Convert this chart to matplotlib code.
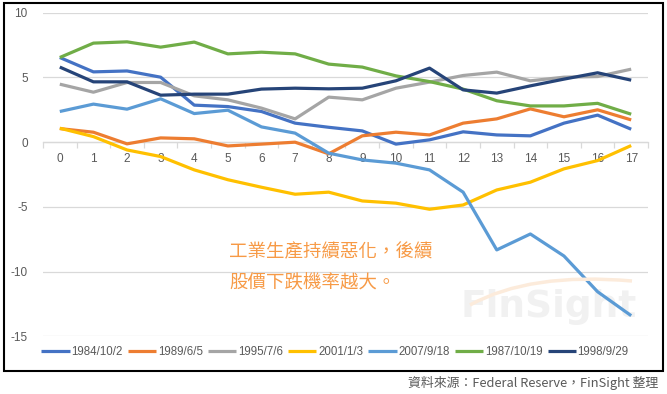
import matplotlib
matplotlib.use("Agg")
import matplotlib.pyplot as plt
from matplotlib.patches import Rectangle, PathPatch
from matplotlib.path import Path

# ---- data ----
x_labels = [str(i) for i in range(18)]
series_names = ["1984/10/2", "1989/6/5", "1995/7/6", "2001/1/3",
                "2007/9/18", "1987/10/19", "1998/9/29"]
s1984 = [6.54, 5.43, 5.50, 5.02, 2.86, 2.75, 2.37, 1.47, 1.15, 0.87,
         -0.15, 0.18, 0.80, 0.56, 0.49, 1.47, 2.09, 1.00]
s1989 = [1.05, 0.77, -0.13, 0.33, 0.26, -0.29, -0.15, 0.00, -0.90, 0.49,
         0.77, 0.56, 1.47, 1.80, 2.57, 1.96, 2.50, 1.72]
s1995 = [4.48, 3.86, 4.61, 4.61, 3.58, 3.27, 2.63, 1.80, 3.48, 3.27,
         4.17, 4.64, 5.15, 5.41, 4.74, 5.02, 5.07, 5.64]
s2001 = [1.08, 0.43, -0.60, -1.11, -2.14, -2.90, -3.48, -4.02, -3.86, -4.54,
         -4.71, -5.18, -4.85, -3.69, -3.09, -2.06, -1.42, -0.26]
s2007 = [2.37, 2.94, 2.55, 3.35, 2.21, 2.47, 1.18, 0.70, -0.85, -1.37,
         -1.62, -2.14, -3.86, -8.32, -7.09, -8.79, -11.55, -13.40]
s1987 = [6.54, 7.65, 7.75, 7.34, 7.73, 6.82, 6.95, 6.82, 6.03, 5.80,
         5.12, 4.68, 4.10, 3.20, 2.80, 2.80, 3.00, 2.16]
s1998 = [5.80, 4.66, 4.66, 3.63, 3.71, 3.71, 4.10, 4.17, 4.12, 4.17,
         4.74, 5.72, 4.04, 3.79, 4.35, 4.87, 5.36, 4.79]
all_series = [s1984, s1989, s1995, s2001, s2007, s1987, s1998]
colors = ["#4472C4", "#ED7D31", "#A5A5A5", "#FFC000",
          "#5B9BD5", "#70AD47", "#264478"]
y_ticks = [-15, -10, -5, 0, 5, 10]

annotation_lines = ["工業生產持續惡化，後續", "股價下跌機率越大。"]
source = "資料來源：Federal Reserve，FinSight 整理"

plt.rcParams['font.family'] = ['Liberation Sans', 'Noto Sans CJK TC', 'DejaVu Sans']

fig = plt.figure(figsize=(6.67, 3.94), dpi=100)
W, H = 667, 394
ax = fig.add_axes([43 / W, 1 - 336.4 / H, (648 - 43) / W, (336.4 - 12.7) / H])

xs = list(range(len(x_labels)))
for name, vals, c in zip(series_names, all_series, colors):
    ax.plot(xs, vals, color=c, lw=2.3, label=name, zorder=3,
            solid_joinstyle='round', solid_capstyle='butt')

ax.set_xlim(-0.5, 17.5)
ax.set_ylim(-15, 10)
ax.set_yticks(y_ticks)
ax.set_yticklabels([str(v) for v in y_ticks])
ax.grid(axis='y', color='#D9D9D9', lw=0.9, zorder=0)
ax.set_axisbelow(True)
for s in ['top', 'right', 'left']:
    ax.spines[s].set_visible(False)
ax.spines['bottom'].set_position(('data', 0))
ax.spines['bottom'].set_color('#D9D9D9')
ax.spines['bottom'].set_linewidth(0.9)
ax.set_xticks(xs)
ax.set_xticklabels(x_labels)
ax.set_xticks([i - 0.5 for i in range(19)], minor=True)
ax.tick_params(axis='x', which='major', length=0, pad=8, labelsize=8.5,
               labelcolor='#595959')
ax.tick_params(axis='x', which='minor', length=4, color='#D9D9D9', width=0.9)
ax.tick_params(axis='y', length=0, pad=11, labelsize=8.5, labelcolor='#595959')

# watermark (decorative)
ax.text(0.836, 0.092, "FinSight", transform=ax.transAxes, fontsize=27,
        fontweight='bold', color='#F1F1F1', ha='center', va='center',
        family='DejaVu Sans', zorder=1)
arc = Path([(470, H - 305), (530, H - 272), (632, H - 281)],
           [Path.MOVETO, Path.CURVE3, Path.CURVE3])
fig.patches.append(PathPatch(arc, transform=None, fill=False,
                             edgecolor='#FCEBDB', lw=2.5, zorder=0))

# annotation
for i, line in enumerate(annotation_lines):
    fig.text(229 / W, 1 - (252 + 31 * i) / H, line, fontsize=13.3,
             color='#F79A46', ha='left', va='center',
             family=['Noto Sans CJK TC'])

leg = fig.legend(loc='center', bbox_to_anchor=(335 / W, 1 - 352 / H), ncol=7,
                 frameon=False, fontsize=8.3, handlelength=2.45,
                 handletextpad=0.15, columnspacing=0.45, borderpad=0)
for t in leg.get_texts():
    t.set_color('#595959')

# outer frame
fig.patches.append(Rectangle((3.5 / W, 1 - 370.5 / H), (663 - 3.5) / W,
                             (370.5 - 3) / H, transform=fig.transFigure,
                             fill=False, edgecolor='black', lw=1.5))

fig.text(658 / W, 1 - 383 / H, source, fontsize=9.3, color='#595959',
         ha='right', va='center', family=['Noto Sans CJK TC', 'DejaVu Sans'])

fig.savefig("out.png", dpi=100)
